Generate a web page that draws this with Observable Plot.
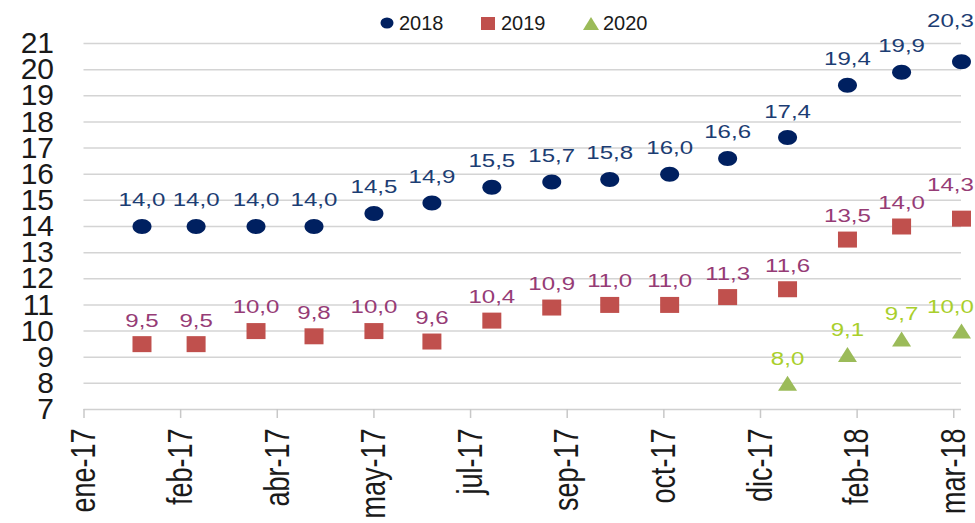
<!DOCTYPE html>
<html>
<head>
<meta charset="utf-8">
<script src="https://cdn.jsdelivr.net/npm/d3@7"></script>
<script src="https://cdn.jsdelivr.net/npm/@observablehq/plot@0.6"></script>
<style>
  body { margin: 0; background: #fff; }
  #wrap { position: relative; width: 975px; height: 523px; font-family: "Liberation Sans", Arial, sans-serif; }
  #legend { position: absolute; left: 0; top: 0; }
</style>
</head>
<body>
<div id="wrap"></div>
<script>
// ---- data ----
const months = ["2017-01-31","2017-02-28","2017-03-31","2017-04-30","2017-05-31","2017-06-30",
                "2017-07-31","2017-08-31","2017-09-30","2017-10-31","2017-11-30","2017-12-31",
                "2018-01-31","2018-02-28","2018-03-31"];
const series2018 = [14.0,14.0,14.0,14.0,14.5,14.9,15.5,15.7,15.8,16.0,16.6,17.4,19.4,19.9,20.3];
const series2019 = [9.5,9.5,10.0,9.8,10.0,9.6,10.4,10.9,11.0,11.0,11.3,11.6,13.5,14.0,14.3];
const series2020 = [null,null,null,null,null,null,null,null,null,null,null,8.0,9.1,9.7,10.0];
const seriesNames = ["2018","2019","2020"];
const xTickDates = ["2017-01-01","2017-02-20","2017-04-11","2017-05-31","2017-07-20","2017-09-08",
                    "2017-10-28","2017-12-17","2018-02-05","2018-03-27"];
const xTickLabels = ["ene-17","feb-17","abr-17","may-17","jul-17","sep-17","oct-17","dic-17","feb-18","mar-18"];
const yTicks = [7,8,9,10,11,12,13,14,15,16,17,18,19,20,21];

// ---- build rows ----
const parse = d3.utcParse("%Y-%m-%d");
function rowsOf(values, name) {
  return values.map((v, i) => ({date: parse(months[i]), value: v, series: name}))
               .filter(d => d.value != null);
}
const r2018 = rowsOf(series2018, seriesNames[0]);
const r2019 = rowsOf(series2019, seriesNames[1]);
const r2020 = rowsOf(series2020, seriesNames[2]);
const tickDates = xTickDates.map(parse);
const labelByTime = new Map(tickDates.map((d, i) => [+d, xTickLabels[i]]));
const fmt = v => d3.format(".1f")(v).replace(".", ",");

// ---- colours ----
const C = {
  m2018: "#002060", t2018: "#1c3d73",
  m2019: "#c0504d", t2019: "#963c76",
  m2020: "#9bbb59", t2020: "#a9cf2c"
};

// ---- custom symbols ----
const K = 0.5523;
const ellipseSym = {draw(ctx) {
  const rx = 9.5, ry = 7.5;
  ctx.moveTo(rx, 0);
  ctx.bezierCurveTo(rx, ry*K, rx*K, ry, 0, ry);
  ctx.bezierCurveTo(-rx*K, ry, -rx, ry*K, -rx, 0);
  ctx.bezierCurveTo(-rx, -ry*K, -rx*K, -ry, 0, -ry);
  ctx.bezierCurveTo(rx*K, -ry, rx, -ry*K, rx, 0);
  ctx.closePath();
}};
const squareSym = {draw(ctx) {
  ctx.moveTo(-9.5, -8); ctx.lineTo(9.5, -8); ctx.lineTo(9.5, 8); ctx.lineTo(-9.5, 8); ctx.closePath();
}};
const triSym = {draw(ctx) {
  ctx.moveTo(0, -7.5); ctx.lineTo(9.5, 7.5); ctx.lineTo(-9.5, 7.5); ctx.closePath();
}};

const labelOpts = (fill, dy, dx = 0) => ({
  x: "date", y: "value", text: d => fmt(d.value), fill, fontSize: 18.5, dy, dx
});

const plot = Plot.plot({
  width: 975,
  height: 523,
  marginLeft: 83.5,
  marginRight: 14,
  marginTop: 43,
  marginBottom: 114,
  style: {fontFamily: "'Liberation Sans', Arial, sans-serif", background: "white", overflow: "visible"},
  x: {type: "utc", domain: [parse("2017-01-01"), parse("2018-03-31")]},
  y: {domain: [7, 21]},
  marks: [
    Plot.gridY(yTicks.slice(1), {stroke: "#d4d4d4", strokeOpacity: 1, strokeWidth: 1.5}),
    Plot.ruleY([7], {stroke: "#d0d0d0", strokeWidth: 1.5}),
    Plot.axisY({ticks: yTicks, tickSize: 0, tickPadding: 30, fontSize: 30, fill: "#1a1a1a",
                tickFormat: d => String(d), label: null}),
    Plot.axisX({ticks: tickDates, tickFormat: d => labelByTime.get(+d), tickRotate: -90,
                tickSize: 9, tickPadding: 10, fontSize: 27, fill: "#1a1a1a", stroke: "#c8c8c8",
                strokeWidth: 1.5, label: null}),
    Plot.dot(r2018, {x: "date", y: "value", symbol: ellipseSym, fill: C.m2018, stroke: "none"}),
    Plot.dot(r2019, {x: "date", y: "value", symbol: squareSym, fill: C.m2019, stroke: "none"}),
    Plot.dot(r2020, {x: "date", y: "value", symbol: triSym, fill: C.m2020, stroke: "none"}),
    Plot.text(r2018.slice(0, -1), labelOpts(C.t2018, -26)),
    Plot.text(r2018.slice(-1), labelOpts(C.t2018, -41, -11)),
    Plot.text(r2019.slice(0, -1), labelOpts(C.t2019, -23.5)),
    Plot.text(r2019.slice(-1), labelOpts(C.t2019, -34, -11)),
    Plot.text(r2020.slice(0, -1), labelOpts(C.t2020, -24.5)),
    Plot.text(r2020.slice(-1), labelOpts(C.t2020, -23.5, -11))
  ]
});

function stretch(nodes, sx, sy) {
  for (const node of nodes) {
    const t = node.getAttribute("transform");
    if (t) node.setAttribute("transform", t + ` scale(${sx},${sy})`);
    else {
      const x = +node.getAttribute("x") || 0, y = +node.getAttribute("y") || 0;
      node.removeAttribute("x"); node.removeAttribute("y");
      node.setAttribute("transform", `translate(${x},${y}) scale(${sx},${sy})`);
    }
  }
}
const allText = Array.from(plot.querySelectorAll("text"));
stretch(allText.filter(n => /^\d+,\d$/.test(n.textContent.trim())), 1.3, 1);
stretch(allText.filter(n => xTickLabels.includes(n.textContent.trim())), 1, 1.3);

const wrap = document.getElementById("wrap");
wrap.appendChild(plot);

// ---- legend (above the plot area) ----
const legend = d3.create("svg").attr("id", "legend").attr("width", 975).attr("height", 40)
  .style("font-family", "'Liberation Sans', Arial, sans-serif");
const items = [
  {name: seriesNames[0], color: C.m2018, mx: 387, tx: 399, shape: "ellipse"},
  {name: seriesNames[1], color: C.m2019, mx: 488, tx: 501, shape: "square"},
  {name: seriesNames[2], color: C.m2020, mx: 591, tx: 603, shape: "tri"}
];
for (const it of items) {
  if (it.shape === "ellipse") legend.append("ellipse").attr("cx", it.mx).attr("cy", 23).attr("rx", 6.5).attr("ry", 5.5).attr("fill", it.color);
  else if (it.shape === "square") legend.append("rect").attr("x", it.mx - 7).attr("y", 17).attr("width", 14).attr("height", 13).attr("fill", it.color);
  else legend.append("path").attr("d", `M${it.mx},17L${it.mx + 8},30L${it.mx - 8},30Z`).attr("fill", it.color);
  legend.append("text").attr("x", it.tx).attr("y", 30).attr("font-size", 20).attr("fill", "#1a1a1a").text(it.name);
}
wrap.appendChild(legend.node());
</script>
</body>
</html>
